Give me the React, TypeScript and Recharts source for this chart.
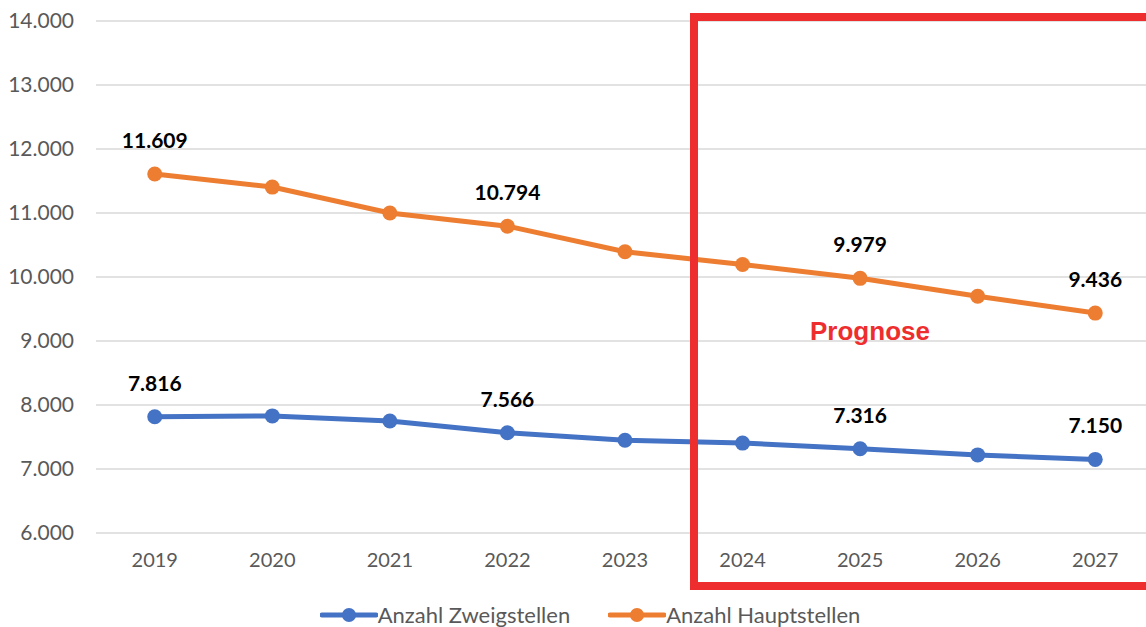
import React from "react";
import { LineChart, Line, XAxis, YAxis, CartesianGrid, LabelList } from "recharts";

const years = ["2019", "2020", "2021", "2022", "2023", "2024", "2025", "2026", "2027"];
const zweigstellen = [7816, 7830, 7750, 7566, 7450, 7405, 7316, 7220, 7150];
const hauptstellen = [11609, 11405, 11000, 10794, 10395, 10195, 9979, 9700, 9436];
const labelledIdx = [0, 3, 6, 8];
const yTicks = [6000, 7000, 8000, 9000, 10000, 11000, 12000, 13000, 14000];

const BLUE = "#4472C4";
const ORANGE = "#ED7D31";
const RED = "#EE2E2E";
const FONT = "Lato, 'Open Sans', sans-serif";

const data = years.map((y, i) => ({
	year: y,
	zweig: zweigstellen[i],
	haupt: hauptstellen[i],
}));

const fmt = (v: number) => String(v).replace(/\B(?=(\d{3})+(?!\d))/g, ".");

const renderLabel = (props: any) => {
	const { x, y, value, index } = props;
	if (!labelledIdx.includes(index)) return null;
	return (
		<text
			x={x}
			y={y - 26}
			textAnchor="middle"
			fontFamily={FONT}
			fontWeight={700}
			fontSize={21}
			fill="#000"
		>
			{fmt(value)}
		</text>
	);
};

const LegendItem = ({ color, label }: { color: string; label: string }) => (
	<div style={{ display: "flex", alignItems: "center" }}>
		<svg width={58} height={16}>
			<line x1={2} y1={8} x2={56} y2={8} stroke={color} strokeWidth={5} strokeLinecap="round" />
			<circle cx={29} cy={8} r={7} fill={color} />
		</svg>
		<span style={{ fontFamily: FONT, fontSize: 22, color: "#595959" }}>{label}</span>
	</div>
);

export default function App() {
	return (
		<div
			style={{
				position: "fixed",
				top: 0,
				left: 0,
				width: 1146,
				height: 627,
				overflow: "hidden",
				background: "#fff",
			}}
		>
			<LineChart
				width={1160}
				height={600}
				data={data}
				margin={{ top: 21, right: 6, left: 0, bottom: 27 }}
			>
				<CartesianGrid vertical={false} stroke="#D9D9D9" strokeWidth={1.5} />
				<XAxis
					dataKey="year"
					axisLine={false}
					tickLine={false}
					tickSize={0}
					tickMargin={20}
					height={40}
					padding={{ left: 58.75, right: 58.75 }}
					tick={{ fill: "#595959", fontSize: 20, fontFamily: FONT }}
				/>
				<YAxis
					domain={[6000, 14000]}
					ticks={yTicks}
					interval={0}
					width={96}
					axisLine={false}
					tickLine={false}
					tickSize={0}
					tickMargin={22}
					tickFormatter={fmt}
					tick={{ fill: "#595959", fontSize: 21, fontFamily: FONT }}
				/>
				<Line
					dataKey="zweig"
					stroke={BLUE}
					strokeWidth={5}
					dot={{ r: 7.5, fill: BLUE, stroke: BLUE, strokeWidth: 0 }}
					isAnimationActive={false}
				>
					<LabelList dataKey="zweig" content={renderLabel} />
				</Line>
				<Line
					dataKey="haupt"
					stroke={ORANGE}
					strokeWidth={5}
					dot={{ r: 7.5, fill: ORANGE, stroke: ORANGE, strokeWidth: 0 }}
					isAnimationActive={false}
				>
					<LabelList dataKey="haupt" content={renderLabel} />
				</Line>
			</LineChart>

			<div
				style={{
					position: "absolute",
					left: 690,
					top: 13,
					width: 520,
					height: 577,
					border: `8px solid ${RED}`,
					boxSizing: "border-box",
				}}
			/>
			<div
				style={{
					position: "absolute",
					left: 770,
					width: 200,
					top: 316,
					textAlign: "center",
					fontFamily: "'Liberation Sans', Arial, sans-serif",
					fontWeight: 700,
					fontSize: 26,
					color: RED,
				}}
			>
				Prognose
			</div>

			<div
				style={{
					position: "absolute",
					top: 601,
					left: 0,
					width: 1146,
					display: "flex",
					justifyContent: "center",
					gap: 38,
					paddingLeft: 34,
					boxSizing: "border-box",
				}}
			>
				<LegendItem color={BLUE} label="Anzahl Zweigstellen" />
				<LegendItem color={ORANGE} label="Anzahl Hauptstellen" />
			</div>
		</div>
	);
}
